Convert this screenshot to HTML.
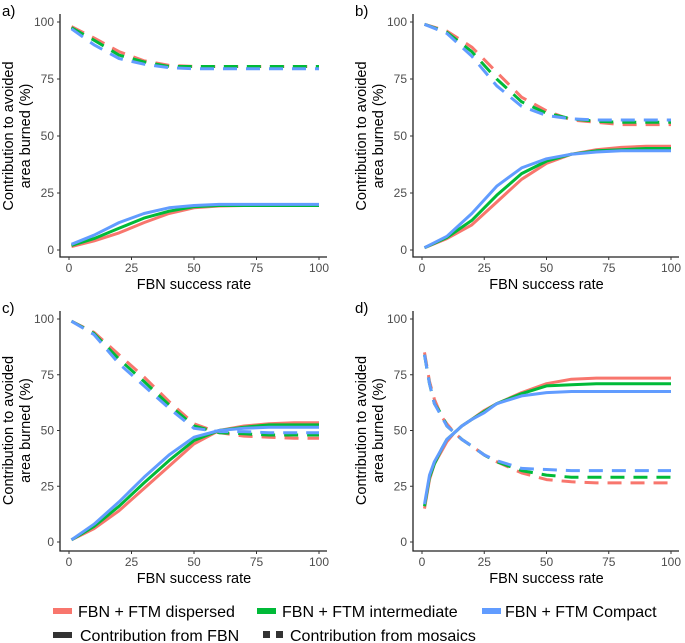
<!DOCTYPE html>
<html><head><meta charset="utf-8"><style>
body{margin:0;background:#fff;}
svg{display:block;font-family:"Liberation Sans",Arial,sans-serif;}
</style></head><body>
<svg id="chart" width="685" height="643" viewBox="0 0 685 643"></svg>
<script>
const xsA=[1,10,20,30,40,50,60,70,80,90,100];
const aDashRed=[98,93,87,83,81,80.5,80.5,80.5,80.5,80.5,80.5];
const aDashGreen=[97.5,92,85.5,82.5,80.5,80.5,80.5,80.5,80.5,80.5,80.5];
const aDashBlue=[97,90,84,81.5,80,79.5,79.5,79.5,79.5,79.5,79.5];
const aSolRed=[1.5,4,7.5,12,16,18.5,19.3,19.5,19.5,19.5,19.5];
const aSolGreen=[2,5,9.5,14,17,19,19.5,19.5,19.5,19.5,19.5];
const aSolBlue=[2.5,6.5,12,16,18.5,19.5,20,20,20,20,20];
const bDashRed=[99,96,89,78,67,61,57,56,55,55,55];
const bDashGreen=[99,95.5,87,75,65,60,57.5,56.5,56,56,56];
const bDashBlue=[99,95,85,72,63,59,57.5,57,57,57,57];
const bSolRed=[1,5,11,21,31,38,42,44,45,45.5,45.5];
const bSolGreen=[1,5.5,13,24,33.5,39,42,43.5,44,44.5,44.5];
const bSolBlue=[1,6,16,28,36,40,42,43,43.5,43.5,43.5];
const cDashRed=[99,94,84,74,63,53,49,47.5,47,46.5,46.5];
const cDashGreen=[99,93.5,82,72,61.5,52,49,48.5,48,48,48];
const cDashBlue=[99,93,80,70,60,51,49.5,49.5,49,49,49];
const cSolRed=[1,6,14,24,34,44,50,52,53,53.5,53.5];
const cSolGreen=[1,7,16,26.5,36.5,45.5,50,51.5,52.5,52.5,52.5];
const cSolBlue=[1,8,18,29,39,47,50,51,51.5,51.5,51.5];
const xsD=[1,3,5,8,10,13,16,20,25,30,40,50,60,70,80,100];
const dSolRed=[15,28,35,41,45,49,52,55,59,62,67,71,73,73.5,73.5,73.5];
const dSolGreen=[16,29,35,42,46,49,52,55,58.5,62,66.5,70,70.5,71,71,71];
const dSolBlue=[17,30,36,42,46,49,52,55,58,62,65.5,67,67.5,67.5,67.5,67.5];
const dDashRed=[85,72,64,56,53,49,46,43,39,36,31,28,27,26.5,26.5,26.5];
const dDashGreen=[84,71,62,57,52,49,46,43,39,36,32,30,29,29,29,29];
const dDashBlue=[84,71,62,56,52,49,46,43,39,36.5,33,32.5,32,32,32,32];
const ticks=[0,25,50,75,100];
const RED="#f8766d",GREEN="#00ba38",BLUE="#619cff";
const NS="http://www.w3.org/2000/svg";
const svg=document.getElementById('chart');
function mk(tag,attrs,parent,text){const e=document.createElementNS(NS,tag);for(const k in attrs)e.setAttribute(k,attrs[k]);if(text!==undefined)e.textContent=text;(parent||svg).appendChild(e);return e;}
const panels=[
 {id:'a',x0:69,x1:319,y0:250,y1:22,axL:60,axB:257,xs:xsA,series:[[aDashRed,RED,1],[aDashGreen,GREEN,1],[aDashBlue,BLUE,1],[aSolRed,RED,0],[aSolGreen,GREEN,0],[aSolBlue,BLUE,0]]},
 {id:'b',x0:422,x1:671,y0:250,y1:22,axL:413,axB:257,xs:xsA,series:[[bDashRed,RED,1],[bDashGreen,GREEN,1],[bDashBlue,BLUE,1],[bSolRed,RED,0],[bSolGreen,GREEN,0],[bSolBlue,BLUE,0]]},
 {id:'c',x0:69,x1:319,y0:542,y1:319,axL:60,axB:551,xs:xsA,series:[[cDashRed,RED,1],[cDashGreen,GREEN,1],[cDashBlue,BLUE,1],[cSolRed,RED,0],[cSolGreen,GREEN,0],[cSolBlue,BLUE,0]]},
 {id:'d',x0:422,x1:671,y0:542,y1:319,axL:413,axB:551,xs:xsD,series:[[dDashRed,RED,1],[dDashGreen,GREEN,1],[dDashBlue,BLUE,1],[dSolRed,RED,0],[dSolGreen,GREEN,0],[dSolBlue,BLUE,0]]}
];
const names=['dispersed','intermediate','compact'];
panels.forEach(p=>{
 const g=mk('g',{});
 
 
 const sx=v=>p.x0+(p.x1-p.x0)*v/100;
 const sy=v=>p.y0+(p.y1-p.y0)*v/100;
 p.series.forEach((s,i)=>{
  const d=p.xs.map((x,j)=>(j?'L':'M')+sx(x).toFixed(1)+','+sy(s[0][j]).toFixed(1)).join(' ');
  const path=mk('path',{d:d,fill:'none',stroke:s[1],'stroke-width':3,'stroke-linejoin':'round'},g);
  if(s[2])path.setAttribute('stroke-dasharray','14 9');
  
  
 });
 const ax=mk('path',{d:`M${p.axL},${p.y1-8} V${p.axB} H${p.x1+8}`,fill:'none',stroke:'#222','stroke-width':1.3},g);
 
 
 ticks.forEach(t=>{
  mk('line',{x1:p.axL-3,x2:p.axL,y1:sy(t),y2:sy(t),stroke:'#333'},g);
  const yl=mk('text',{x:p.axL-6,y:sy(t)+4,'text-anchor':'end','font-size':12,fill:'#4d4d4d'},g,t);
  
  
  mk('line',{x1:sx(t),x2:sx(t),y1:p.axB,y2:p.axB+3,stroke:'#333'},g);
  const xl=mk('text',{x:sx(t),y:p.axB+15,'text-anchor':'middle','font-size':12,fill:'#4d4d4d'},g,t);
  
  
 });
 const xt=mk('text',{x:(p.x0+p.x1)/2,y:p.axB+32,'text-anchor':'middle','font-size':14.5,fill:'#000'},g,'FBN success rate');
 
 
 const cy=(p.y0+p.y1)/2, lx=p.axL-47;
 const yt=mk('text',{transform:`translate(${lx},${cy}) rotate(-90)`,'text-anchor':'middle','font-size':14.5,fill:'#000'},g);
 
 
 mk('tspan',{x:0,y:0},yt,'Contribution to avoided');
 mk('tspan',{x:0,y:17},yt,'area burned (%)');
 const pl=mk('text',{x:p.axL-58,y:p.y1-6,'font-size':15,fill:'#000'},g,p.id+')');
 
 
});
// legend
const leg=mk('g',{});


const L1=[[53,RED,'FBN + FTM dispersed',78],[257,GREEN,'FBN + FTM intermediate',282],[482,BLUE,'FBN + FTM Compact',505]];
L1.forEach(e=>{
 const it=mk('g',{},leg);
 
 
 mk('rect',{x:e[0],y:608,width:19,height:6,fill:e[1]},it);
 mk('text',{x:e[3],y:617,'font-size':16,fill:'#000'},it,e[2]);
});
const i2=mk('g',{},leg);


mk('rect',{x:53,y:632,width:19,height:6,fill:'#333'},i2);
mk('text',{x:80,y:641,'font-size':16,fill:'#000'},i2,'Contribution from FBN');
const i3=mk('g',{},leg);


mk('rect',{x:263,y:631,width:7,height:7,fill:'#333'},i3);
mk('rect',{x:276,y:631,width:7,height:7,fill:'#333'},i3);
mk('text',{x:290,y:641,'font-size':16,fill:'#000'},i3,'Contribution from mosaics');
</script>
</body></html>
